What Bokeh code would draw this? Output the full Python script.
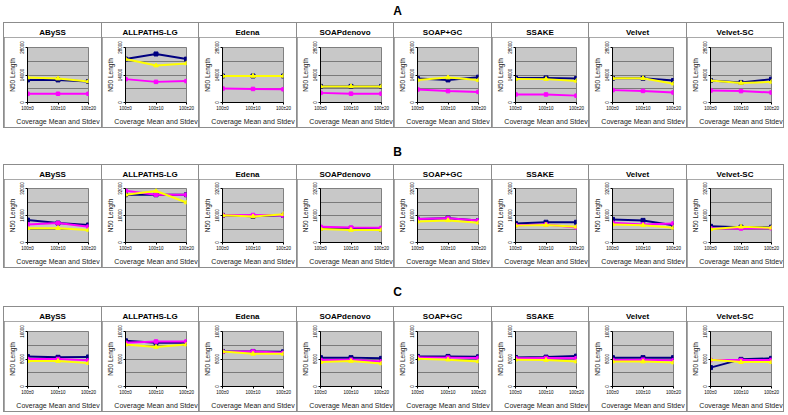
from bokeh.plotting import figure
from bokeh.layouts import row, column
from bokeh.models import Div, FixedTicker, Range1d, Spacer
from bokeh.embed import file_html
from bokeh.resources import INLINE

assemblers = ["ABySS", "ALLPATHS-LG", "Edena", "SOAPdenovo", "SOAP+GC", "SSAKE", "Velvet", "Velvet-SC"]
coverage = ["100±0", "100±10", "100±20"]
row_letters = ["A", "B", "C"]
y_max = [28000, 32000, 16000]

# Row A
A_navy = [[11500, 11500, 10700], [22100, 24700, 22100], [13500, 13500, 13500], [8200, 8200, 8200],
          [12200, 11500, 12900], [12500, 12500, 12200], [12300, 12300, 11200], [11200, 10200, 11900]]
A_magenta = [[4450, 4450, 4450], [11900, 10500, 10900], [7100, 6900, 6700], [4900, 4500, 4500],
             [6600, 5800, 5400], [4100, 4100, 3500], [6300, 5900, 5100], [6100, 5800, 5100]]
A_yellow = [[12700, 12200, 10700], [22100, 18800, 19900], [13500, 13500, 13500], [8200, 8200, 8200],
            [11500, 12700, 11400], [12000, 11900, 11000], [12300, 12300, 9600], [11200, 9900, 10500]]

# Row B
B_navy = [[13300, 11500, 10400], [28300, 28300, 28300], [16100, 15500, 16100], [8500, 8300, 7800],
          [13900, 14400, 13000], [11300, 12000, 12000], [13700, 13100, 10200], [9600, 9100, 9100]]
B_magenta = [[10700, 11500, 9400], [30700, 28300, 28300], [16100, 16300, 16000], [9300, 8900, 8700],
             [13900, 14300, 13100], [10200, 10600, 8900], [11700, 10700, 11300], [8300, 8300, 8500]]
B_yellow = [[8500, 8500, 7400], [28300, 30500, 23700], [16100, 15400, 16800], [8000, 7400, 7400],
            [12400, 13100, 11700], [10000, 10400, 9300], [10700, 10200, 8700], [7800, 9300, 8700]]

# Row C
C_navy = [[8700, 8500, 8600], [13300, 12700, 12700], [10200, 10200, 10100], [8400, 8400, 8200],
          [8750, 8750, 8650], [8450, 8550, 8850], [8400, 8400, 8400], [5500, 7900, 8200]]
C_magenta = [[8000, 8000, 7600], [12700, 13100, 13100], [10100, 10200, 9800], [7700, 7800, 7300],
             [8450, 8400, 8300], [8200, 8300, 8200], [7700, 7800, 7600], [7700, 7700, 7700]]
C_yellow = [[7400, 7400, 6800], [12200, 11500, 12200], [10200, 9500, 9500], [7100, 7400, 6700],
            [8100, 7800, 7300], [7800, 7700, 7250], [7250, 7250, 6950], [7800, 7100, 7100]]

row_data = [(A_navy, A_magenta, A_yellow), (B_navy, B_magenta, B_yellow), (C_navy, C_magenta, C_yellow)]
row_heights = [104, 102, 104]
row_tops = [24, 23, 24]
row_bottoms = [24, 22, 24]
letter_heights = [22, 36, 38]
letter_pads = [5, 18, 18]

FONT = "Liberation Sans"
L, FW = 23, 61
TITLE_H = 14
panel_widths = [97, 96, 97, 96, 97, 96, 97, 96]
ROW_W = sum(panel_widths) + len(panel_widths) - 1 + 2


def make_panel(name, W, navy, magenta, yellow, ymax, H, top, bottom):
    xs = list(range(len(coverage)))
    p = figure(width=W, height=H - TITLE_H, x_range=Range1d(0, len(coverage) - 1), y_range=Range1d(0, ymax),
               min_border_left=L, min_border_right=W - L - FW, min_border_top=top - TITLE_H,
               min_border_bottom=bottom,
               output_backend="svg", toolbar_location=None,
               background_fill_color="#C8C8C8", border_fill_color="white",
               outline_line_color="#808080", outline_line_width=1)
    p.xgrid.grid_line_color = None
    yt = FixedTicker(ticks=[0, ymax / 2, ymax], minor_ticks=[ymax / 4, 3 * ymax / 4])
    p.yaxis.ticker = yt
    p.ygrid.ticker = yt
    p.ygrid.grid_line_color = "#7a7a7a"
    p.ygrid.minor_grid_line_color = "#7a7a7a"
    p.xaxis.ticker = FixedTicker(ticks=xs, minor_ticks=[])
    p.xaxis.major_label_overrides = {i: c for i, c in enumerate(coverage)}
    for ax in (p.xaxis[0], p.yaxis[0]):
        ax.axis_line_color = "black"
        ax.major_tick_line_color = "black"
        ax.minor_tick_line_color = None
        ax.major_tick_in = 0
        ax.major_tick_out = 2
        ax.major_label_text_font = FONT
        ax.axis_label_text_font = FONT
        ax.axis_label_text_font_style = "normal"
        ax.major_label_text_color = "black"
        ax.axis_label_text_color = "#222222"
    p.yaxis.major_label_orientation = "vertical"
    p.yaxis.major_label_text_font_size = "4.5px"
    p.yaxis.major_label_standoff = 0
    p.yaxis.axis_label = "N50 Length"
    p.yaxis.axis_label_text_font_size = "6.5px"
    p.yaxis.axis_label_standoff = 1
    p.xaxis.major_label_text_font_size = "4.5px"
    p.xaxis.major_label_standoff = 1
    p.xaxis.axis_label = "Coverage Mean and Stdev"
    p.xaxis.axis_label_text_font_size = "7px"
    p.xaxis.axis_label_standoff = 4

    p.line(xs, navy, line_color="#000080", line_width=2)
    p.scatter(xs, navy, marker="square", size=4, color="#000080")
    p.line(xs, magenta, line_color="#FF00FF", line_width=2)
    p.scatter(xs, magenta, marker="square", size=3.5, color="#FF00FF")
    p.line(xs, yellow, line_color="#FFFF00", line_width=2)
    p.scatter(xs, yellow, marker="triangle", size=4.5, color="#FFFF00")

    title = Div(text=f'<div style="width:{W}px;text-align:center;font-family:\'{FONT}\';font-weight:bold;'
                     f'font-size:8px;line-height:13px;color:black">{name}</div>',
                width=W, height=TITLE_H, margin=0, styles={"background-color": "white"})
    return column([title, p], spacing=0)


children = []
for r, letter in enumerate(row_letters):
    children.append(Div(
        text=f'<div style="width:{ROW_W}px;box-sizing:border-box;text-align:center;font-family:\'{FONT}\';'
             f'font-weight:bold;font-size:12px;line-height:12px;padding-top:{letter_pads[r]}px;'
             f'padding-left:8px;color:black">{letter}</div>',
        width=ROW_W, height=letter_heights[r], margin=0))
    navy_r, magenta_r, yellow_r = row_data[r]
    panels = [make_panel(assemblers[i], panel_widths[i], navy_r[i], magenta_r[i], yellow_r[i], y_max[r],
                         row_heights[r], row_tops[r], row_bottoms[r]) for i in range(len(assemblers))]
    children.append(row(panels, spacing=1,
                        styles={"background-color": "#8c8c8c", "padding": "1px"}))

layout = row([Spacer(width=3, margin=0), column(children, spacing=0)], spacing=0)
open("out.html", "w").write(file_html(layout, INLINE))
